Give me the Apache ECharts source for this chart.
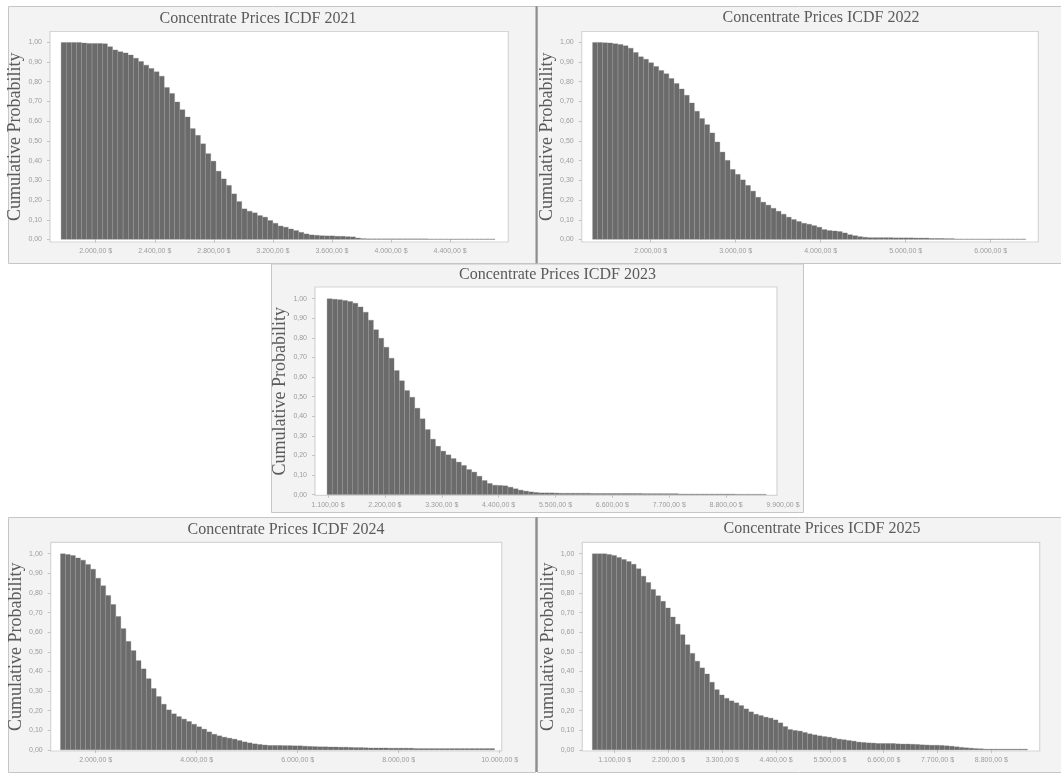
<!DOCTYPE html>
<html>
<head>
<meta charset="utf-8">
<title>Concentrate Prices ICDF 2021-2025</title>
<script src="https://cdn.jsdelivr.net/npm/echarts@6/dist/echarts.min.js"></script>
<style>
  html, body { margin: 0; padding: 0; background: #ffffff; }
  #chart { width: 1061px; height: 774px; }
</style>
</head>
<body>
<div id="chart"></div>
<script>
// ---- Data: inverse cumulative probability per price bin (equal-width bins) ----
const years = ['2021', '2022', '2023', '2024', '2025'];

const binStart2021 = 1765, binWidth2021 = 35;
const prob2021 = [
  1.000, 1.000, 1.000, 1.000, 0.997, 0.995, 0.995, 0.995, 0.993,
  0.978, 0.962, 0.953, 0.947, 0.936, 0.920, 0.903, 0.885, 0.868, 0.851, 0.829,
  0.771, 0.741, 0.698, 0.659, 0.622, 0.563, 0.529, 0.486, 0.436, 0.398,
  0.347, 0.308, 0.275, 0.232, 0.193, 0.156, 0.144, 0.136, 0.122, 0.114,
  0.097, 0.083, 0.069, 0.063, 0.054, 0.046, 0.037, 0.029, 0.024, 0.022,
  0.020, 0.019, 0.019, 0.017, 0.017, 0.015, 0.014, 0.008, 0.005,
  0.004, 0.004, 0.004, 0.004, 0.004, 0.004, 0.004, 0.004, 0.004, 0.004, 0.004, 0.004,
  0.003, 0.003, 0.003, 0.003, 0.003, 0.003, 0.003, 0.003, 0.003, 0.003, 0.003, 0.003, 0.003
];

const binStart2022 = 1315, binWidth2022 = 60;
const prob2022 = [
  1.000, 1.000, 0.998, 0.997, 0.993, 0.990, 0.983, 0.971, 0.949, 0.927,
  0.915, 0.897, 0.878, 0.858, 0.841, 0.817, 0.792, 0.764, 0.732, 0.693,
  0.651, 0.614, 0.583, 0.541, 0.495, 0.444, 0.402, 0.356, 0.331, 0.303,
  0.275, 0.246, 0.215, 0.190, 0.175, 0.159, 0.144, 0.129, 0.114, 0.102,
  0.092, 0.083, 0.078, 0.071, 0.063, 0.051, 0.046, 0.044, 0.041, 0.034,
  0.025, 0.020, 0.015, 0.012, 0.010,
  0.010, 0.010, 0.010, 0.010, 0.009, 0.009, 0.009, 0.009, 0.008, 0.008, 0.008,
  0.006, 0.006, 0.006, 0.005, 0.005,
  0.003, 0.003, 0.003, 0.003, 0.003, 0.003, 0.003, 0.003, 0.003, 0.003, 0.003, 0.003, 0.003, 0.003
];

const binStart2023 = 1080, binWidth2023 = 100;
const prob2023 = [
  1.000, 0.998, 0.996, 0.991, 0.986, 0.978, 0.959, 0.932, 0.891, 0.842,
  0.799, 0.753, 0.697, 0.634, 0.582, 0.532, 0.498, 0.442, 0.388, 0.333,
  0.284, 0.248, 0.223, 0.204, 0.185, 0.167, 0.150, 0.129, 0.116, 0.095,
  0.073, 0.058, 0.049, 0.048, 0.046, 0.039, 0.031, 0.024, 0.019, 0.015,
  0.012, 0.010, 0.010, 0.010, 0.009,
  0.008, 0.008, 0.008, 0.008, 0.008, 0.008,
  0.007, 0.007, 0.007, 0.007, 0.007, 0.007, 0.007, 0.007, 0.007, 0.007,
  0.006, 0.006, 0.006, 0.006, 0.006, 0.006, 0.006,
  0.004, 0.004, 0.004, 0.004, 0.004, 0.004, 0.004, 0.004, 0.004, 0.004, 0.004,
  0.003, 0.003, 0.003, 0.003, 0.003, 0.003
];

const binStart2024 = 1300, binWidth2024 = 100;
const prob2024 = [
  1.000, 0.997, 0.991, 0.979, 0.968, 0.946, 0.922, 0.876, 0.837, 0.788,
  0.742, 0.681, 0.619, 0.554, 0.507, 0.456, 0.414, 0.364, 0.314, 0.273,
  0.234, 0.205, 0.185, 0.171, 0.158, 0.146, 0.132, 0.119, 0.107, 0.093,
  0.081, 0.073, 0.066, 0.061, 0.056, 0.049, 0.042, 0.037, 0.032, 0.029,
  0.026, 0.024,
  0.024, 0.024, 0.023, 0.023, 0.022,
  0.022, 0.020, 0.019, 0.018, 0.017, 0.017, 0.016, 0.016, 0.015, 0.015,
  0.014, 0.013, 0.013, 0.012,
  0.011, 0.011, 0.011, 0.011, 0.010, 0.010, 0.010, 0.010, 0.010,
  0.008, 0.008, 0.008, 0.008, 0.008, 0.008, 0.008, 0.008,
  0.008, 0.008, 0.008, 0.008, 0.008, 0.008, 0.008, 0.008
];

const binStart2025 = 640, binWidth2025 = 100;
const prob2025 = [
  1.000, 1.000, 1.000, 0.997, 0.992, 0.982, 0.971, 0.961, 0.947, 0.924,
  0.886, 0.854, 0.819, 0.786, 0.758, 0.724, 0.678, 0.642, 0.588, 0.537,
  0.493, 0.453, 0.419, 0.388, 0.346, 0.308, 0.281, 0.264, 0.251, 0.241,
  0.227, 0.210, 0.195, 0.183, 0.176, 0.168, 0.163, 0.154, 0.139, 0.120,
  0.105, 0.100, 0.097, 0.090, 0.083, 0.078, 0.073, 0.069, 0.066, 0.061,
  0.056, 0.053, 0.049, 0.046, 0.041, 0.039, 0.037, 0.036, 0.034, 0.034,
  0.034, 0.034, 0.032, 0.031, 0.031, 0.030, 0.029, 0.027, 0.026, 0.025,
  0.025, 0.024, 0.022, 0.020, 0.017, 0.014, 0.012, 0.010, 0.008, 0.007,
  0.005, 0.005, 0.005, 0.005, 0.005, 0.005, 0.005, 0.005, 0.005
];

// Axis tick values
const priceTicks2021 = [2000, 2400, 2800, 3200, 3600, 4000, 4400];
const priceTicks2022 = [2000, 3000, 4000, 5000, 6000];
const priceTicks2023 = [1100, 2200, 3300, 4400, 5500, 6600, 7700, 8800, 9900];
const priceTicks2024 = [2000, 4000, 6000, 8000, 10000];
const priceTicks2025 = [1100, 2200, 3300, 4400, 5500, 6600, 7700, 8800];
const probTicks = [0, 0.1, 0.2, 0.3, 0.4, 0.5, 0.6, 0.7, 0.8, 0.9, 1];

const yearData = [
  { start: binStart2021, width: binWidth2021, prob: prob2021, ticks: priceTicks2021 },
  { start: binStart2022, width: binWidth2022, prob: prob2022, ticks: priceTicks2022 },
  { start: binStart2023, width: binWidth2023, prob: prob2023, ticks: priceTicks2023 },
  { start: binStart2024, width: binWidth2024, prob: prob2024, ticks: priceTicks2024 },
  { start: binStart2025, width: binWidth2025, prob: prob2025, ticks: priceTicks2025 }
];

// ---- Layout of the five panels (pixels) ----
// box: panel background, frame: white plot area, oneY/zeroY: pixel rows of 1,00 and 0,00,
// ref: [price, x pixel] of one reference tick, pxPer: pixels per dollar,
// axisMax: price at which the axis ends when its last label sits past the frame
const layouts = [
  { box: [8, 6, 528, 257],    frame: [50, 31.5, 458.3, 210.5],  oneY: 42.3,  zeroY: 239.5,
    ref: [2000, 95.7],  pxPer: 0.14767,  title: [258, 18.3] },
  { box: [537, 6, 524, 257],  frame: [581.7, 31.5, 456.6, 210.5], oneY: 42.3, zeroY: 239.5,
    ref: [2000, 650.7], pxPer: 0.085,    title: [821, 17.5] },
  { box: [271, 263.5, 532, 248.5], frame: [315, 287, 462, 208.3], oneY: 298.7, zeroY: 494.7,
    ref: [1100, 328],   pxPer: 0.051705, title: [557.5, 274.7], axisMax: 9900 },
  { box: [8, 517, 527, 255],  frame: [50.7, 542.3, 451, 208.7], oneY: 553.7, zeroY: 750,
    ref: [2000, 95.7],  pxPer: 0.0505,   title: [286, 529.7] },
  { box: [537, 517, 524, 255], frame: [582.3, 542.3, 457.4, 208.7], oneY: 553.7, zeroY: 750,
    ref: [1100, 614.7], pxPer: 0.048917, title: [822, 528.7] }
];

const serif = '"Liberation Serif", "DejaVu Serif", serif';
const sans = '"Liberation Sans", Arial, sans-serif';
const textGrey = '#5a5a5a';
const tickGrey = '#9c9c9c';

function fmtPrice(v) {
  const n = Math.round(v);
  return String(n).replace(/\B(?=(\d{3})+(?!\d))/g, '.') + ',00 $';
}
function fmtProb(v) {
  return v.toFixed(2).replace('.', ',');
}

const option = {
  animation: false,
  backgroundColor: '#ffffff',
  title: [],
  grid: [],
  xAxis: [],
  yAxis: [],
  series: [],
  graphic: { elements: [] }
};

layouts.forEach((L, k) => {
  const d = yearData[k];
  const [fx, fy, fw, fh] = L.frame;
  const xMin = L.ref[0] + (fx - L.ref[1]) / L.pxPer;
  const frameMax = L.ref[0] + (fx + fw - L.ref[1]) / L.pxPer;
  const xMax = L.axisMax != null ? L.axisMax : frameMax;
  const gridRight = L.ref[1] + (xMax - L.ref[0]) * L.pxPer;
  const span = L.zeroY - L.oneY;
  const yMin = -(fy + fh - L.zeroY) / span;
  const yMax = 1 + (L.oneY - fy) / span;

  // panel background and plot frame
  option.graphic.elements.push({
    type: 'rect', z: -20, silent: true,
    shape: { x: L.box[0] + 0.5, y: L.box[1] + 0.5, width: L.box[2], height: L.box[3] },
    style: { fill: '#f3f3f3', stroke: '#c6c6c6', lineWidth: 1 }
  });
  option.graphic.elements.push({
    type: 'rect', z: -10, silent: true,
    shape: { x: fx, y: fy, width: fw, height: fh },
    style: { fill: '#ffffff', stroke: '#d5d5d5', lineWidth: 1.2 }
  });

  option.title.push({
    text: 'Concentrate Prices ICDF ' + years[k],
    left: L.title[0], top: L.title[1],
    textAlign: 'center', textVerticalAlign: 'middle', padding: 0,
    textStyle: { fontFamily: serif, fontSize: 16, fontWeight: 'normal', color: textGrey }
  });

  option.grid.push({
    left: fx, top: fy, width: gridRight - fx, height: fh,
    containLabel: false, outerBoundsMode: 'none', show: false
  });

  option.xAxis.push({
    type: 'value', gridIndex: k, min: xMin, max: xMax,
    axisLine: { show: false },
    splitLine: { show: false },
    axisTick: { show: true, customValues: d.ticks.filter(t => t <= frameMax),
                length: 3, lineStyle: { color: '#c4c4c4' } },
    axisLabel: {
      customValues: d.ticks, formatter: fmtPrice, margin: 6,
      fontFamily: sans, fontSize: 7, color: tickGrey,
      showMaxLabel: true
    }
  });

  option.yAxis.push({
    type: 'value', gridIndex: k, min: yMin, max: yMax,
    name: 'Cumulative Probability', nameLocation: 'middle', nameGap: 23,
    nameTextStyle: { fontFamily: serif, fontSize: 18, color: textGrey },
    axisLine: { show: false },
    splitLine: { show: false },
    axisTick: { show: true, customValues: probTicks, length: 3, lineStyle: { color: '#c4c4c4' } },
    axisLabel: {
      customValues: probTicks, formatter: fmtProb, margin: 8,
      fontFamily: sans, fontSize: 7, color: tickGrey
    }
  });

  option.series.push({
    type: 'bar', name: years[k], xAxisIndex: k, yAxisIndex: k,
    barWidth: '100%', silent: true,
    itemStyle: { color: '#6b6b6b', borderColor: '#727272', borderWidth: 0.3 },
    data: d.prob.map((p, i) => [d.start + d.width * (i + 0.5), p])
  });
});

// darker separators between the left and right panels
option.graphic.elements.push(
  { type: 'line', z: -5, silent: true, shape: { x1: 536.5, y1: 6, x2: 536.5, y2: 263.5 },
    style: { stroke: '#8e8e8e', lineWidth: 2 } },
  { type: 'line', z: -5, silent: true, shape: { x1: 536.5, y1: 517, x2: 536.5, y2: 772 },
    style: { stroke: '#8e8e8e', lineWidth: 2 } }
);

const chart = echarts.init(document.getElementById('chart'), null, { renderer: 'canvas' });
chart.setOption(option);
</script>
</body>
</html>
